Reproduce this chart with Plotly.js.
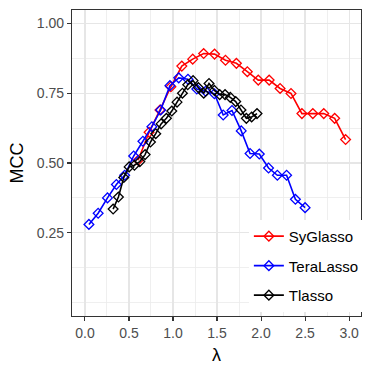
<!DOCTYPE html>
<html>
<head>
<meta charset="utf-8">
<script src="https://cdn.plot.ly/plotly-3.0.1.min.js"></script>
<style>
  html, body { margin: 0; padding: 0; background: #fff; }
  #grafico { width: 374px; height: 374px; }
</style>
</head>
<body>
<div id="grafico"></div>
<script>
// valores
const lambdaSy = [0.604, 0.728, 0.852, 0.976, 1.10, 1.224, 1.348, 1.472, 1.596, 1.72,
                  1.844, 1.968, 2.092, 2.216, 2.34, 2.464, 2.588, 2.712, 2.836, 2.96];
const mccSy = [0.51, 0.61, 0.69, 0.773, 0.847, 0.872, 0.892, 0.89, 0.868, 0.857,
               0.827, 0.797, 0.797, 0.767, 0.749, 0.677, 0.677, 0.677, 0.66, 0.584];

const lambdaTera = [0.045, 0.15, 0.256, 0.357, 0.451, 0.553, 0.658, 0.76, 0.86, 0.965,
                    1.065, 1.17, 1.27, 1.37, 1.47, 1.57, 1.67, 1.775, 1.875, 1.98,
                    2.085, 2.185, 2.29, 2.39, 2.5];
const mccTera = [0.28, 0.32, 0.375, 0.423, 0.456, 0.525, 0.578, 0.63, 0.69, 0.777,
                 0.805, 0.80, 0.765, 0.757, 0.748, 0.672, 0.688, 0.615, 0.534, 0.532,
                 0.482, 0.456, 0.456, 0.37, 0.34];

const lambdaT = [0.32, 0.38, 0.441, 0.502, 0.562, 0.623, 0.683, 0.744, 0.804, 0.865,
                 0.925, 0.986, 1.046, 1.107, 1.167, 1.228, 1.288, 1.349, 1.409, 1.47,
                 1.53, 1.591, 1.651, 1.712, 1.772, 1.833, 1.893, 1.954];
const mccT = [0.335, 0.378, 0.448, 0.486, 0.492, 0.505, 0.53, 0.575, 0.605, 0.64,
              0.66, 0.686, 0.718, 0.75, 0.78, 0.795, 0.77, 0.75, 0.785, 0.76,
              0.745, 0.745, 0.735, 0.72, 0.69, 0.66, 0.665, 0.677];

const nombres = ["SyGlasso", "TeraLasso", "Tlasso"];
const colores = ["#ff0000", "#0000ff", "#000000"];

const xTicks = [0, 0.5, 1, 1.5, 2, 2.5, 3];
const yTicks = [0.25, 0.5, 0.75, 1];

const fuente = "Liberation Sans, Arial, sans-serif";

function serie(x, y, i) {
  return {
    x: x,
    y: y,
    type: "scatter",
    mode: "lines+markers",
    name: nombres[i],
    legendgroup: nombres[i],
    line: { color: colores[i], width: 1.6 },
    marker: { symbol: "diamond-open", size: 7.5, color: colores[i], line: { width: 1.3, color: colores[i] } }
  };
}

const trazos = [
  serie(lambdaSy, mccSy, 0),
  serie(lambdaTera, mccTera, 1),
  serie(lambdaT, mccT, 2)
];

const ejeComun = {
  showline: true,
  mirror: true,
  linecolor: "#333333",
  linewidth: 1.1,
  ticks: "outside",
  ticklen: 4,
  tickwidth: 1.1,
  tickcolor: "#333333",
  tickfont: { family: fuente, size: 14, color: "#4d4d4d" },
  showgrid: true,
  gridcolor: "#e6e6e6",
  gridwidth: 1.2,
  zeroline: false
};

const layout = {
  width: 374,
  height: 374,
  margin: { l: 72, r: 11, t: 10, b: 58 },
  paper_bgcolor: "#ffffff",
  plot_bgcolor: "#ffffff",
  showlegend: true,
  xaxis: Object.assign({}, ejeComun, {
    range: [-0.147, 3.135],
    tickvals: xTicks,
    tickformat: ".1f",
    minor: { tick0: 0.25, dtick: 0.5, showgrid: true, gridcolor: "#ebebeb", gridwidth: 0.8, ticklen: 0 },
    title: { text: "λ", font: { family: fuente, size: 18, color: "#000" }, standoff: 8 }
  }),
  yaxis: Object.assign({}, ejeComun, {
    range: [-0.048, 1.048],
    tickvals: yTicks,
    tickformat: ".2f",
    minor: { tick0: 0, dtick: 0.125, showgrid: true, gridcolor: "#ebebeb", gridwidth: 0.8, ticklen: 0 },
    title: { text: "MCC", font: { family: fuente, size: 18, color: "#000" }, standoff: 8 }
  }),
  legend: {
    x: 0.612,
    y: 0.314,
    xanchor: "left",
    yanchor: "top",
    bgcolor: "#ffffff",
    borderwidth: 0,
    tracegroupgap: 7,
    font: { family: fuente, size: 15, color: "#000" }
  }
};

Plotly.newPlot("grafico", trazos, layout, { staticPlot: true });
</script>
</body>
</html>
